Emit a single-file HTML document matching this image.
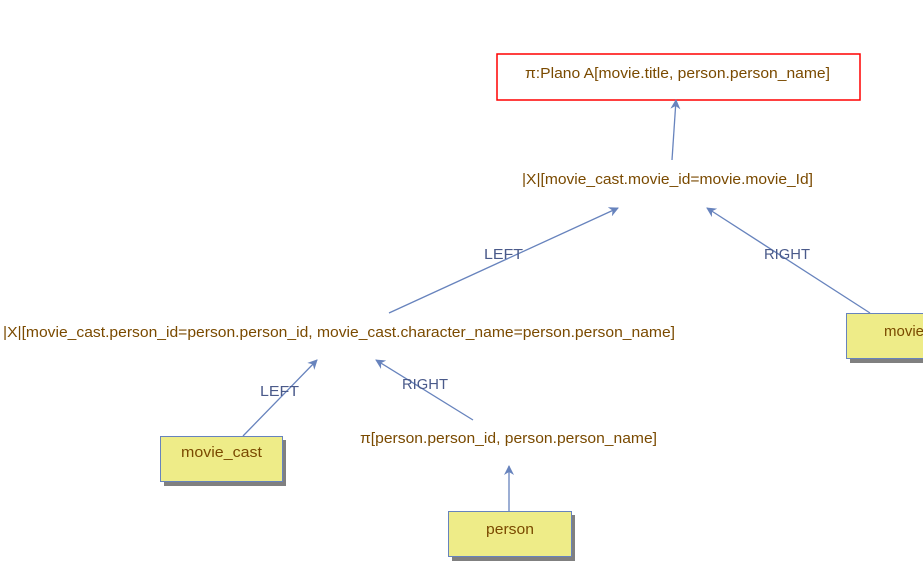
<!DOCTYPE html>
<html><head><style>body{margin:0;background:#fff}svg{display:block}</style></head><body>
<svg width="923" height="568" xmlns="http://www.w3.org/2000/svg" font-family="Liberation Sans, sans-serif" font-size="15">
<defs><marker id="a" markerWidth="10" markerHeight="10" refX="9" refY="5" orient="auto" markerUnits="userSpaceOnUse"><path d="M0,0 L10,5 L0,10 L3,5 Z" fill="#6783bd"/></marker></defs>
<rect x="497" y="54" width="363" height="46" fill="#fff" stroke="#f00" stroke-width="1.5"/>
<g fill="#7a4a00">
<text x="525" y="78" textLength="305" lengthAdjust="spacingAndGlyphs">π:Plano A[movie.title, person.person_name]</text>
<text x="522" y="184" textLength="291" lengthAdjust="spacingAndGlyphs">|X|[movie_cast.movie_id=movie.movie_Id]</text>
<text x="3" y="337" textLength="672" lengthAdjust="spacingAndGlyphs">|X|[movie_cast.person_id=person.person_id, movie_cast.character_name=person.person_name]</text>
<text x="360" y="443" textLength="297" lengthAdjust="spacingAndGlyphs">π[person.person_id, person.person_name]</text>
</g>
<g stroke="#6783bd" stroke-width="1.3" fill="none" marker-end="url(#a)">
<line x1="672" y1="160" x2="676" y2="100"/>
<line x1="389" y1="313" x2="618" y2="208"/>
<line x1="870" y1="313" x2="707" y2="208"/>
<line x1="243" y1="436" x2="317" y2="360"/>
<line x1="473" y1="420" x2="376" y2="360"/>
<line x1="509" y1="511" x2="509" y2="466"/>
</g>
<g fill="#4a5a8a">
<text x="484" y="259" textLength="39" lengthAdjust="spacingAndGlyphs">LEFT</text>
<text x="764" y="259" textLength="46" lengthAdjust="spacingAndGlyphs">RIGHT</text>
<text x="260" y="396" textLength="39" lengthAdjust="spacingAndGlyphs">LEFT</text>
<text x="402" y="389" textLength="46" lengthAdjust="spacingAndGlyphs">RIGHT</text>
</g>
<g>
<rect x="164" y="440" width="122" height="46" fill="#808080"/>
<rect x="160.5" y="436.5" width="122" height="45" fill="#eeec88" stroke="#6783bd"/>
<rect x="452" y="515" width="123" height="46" fill="#808080"/>
<rect x="448.5" y="511.5" width="123" height="45" fill="#eeec88" stroke="#6783bd"/>
<rect x="850" y="317" width="123" height="46" fill="#808080"/>
<rect x="846.5" y="313.5" width="123" height="45" fill="#eeec88" stroke="#6783bd"/>
</g>
<g fill="#7a4a00">
<text x="181" y="457" textLength="81" lengthAdjust="spacingAndGlyphs">movie_cast</text>
<text x="486" y="534" textLength="48" lengthAdjust="spacingAndGlyphs">person</text>
<text x="884" y="336">movie</text>
</g>
</svg>
</body></html>
